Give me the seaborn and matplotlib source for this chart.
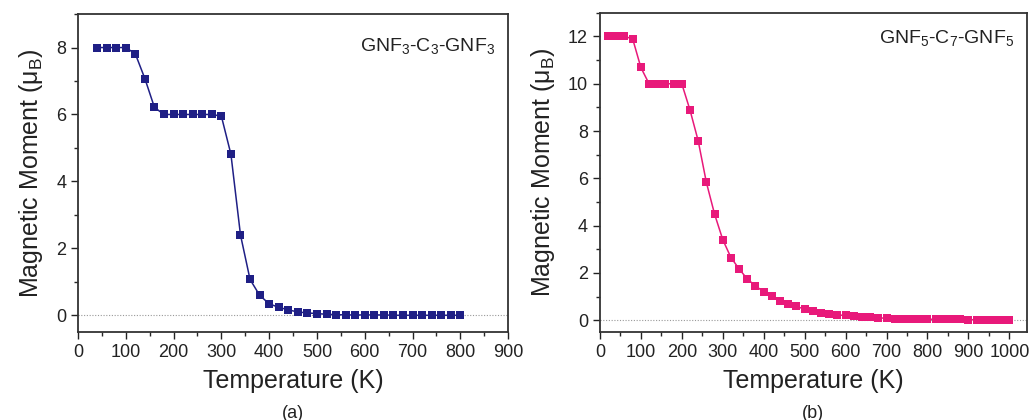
import numpy as np
import pandas as pd
import matplotlib
matplotlib.use("Agg")
import matplotlib.pyplot as plt
import seaborn as sns
from matplotlib.ticker import MultipleLocator

# --- Daten (a): GNF3-C3-GNF3 ---
temp_a = list(range(40, 801, 20))
moment_a = [8.0, 8.0, 8.0, 8.0, 7.81, 7.07, 6.21, 6.0, 6.0, 6.0, 6.0, 6.0, 6.0,
            5.95, 4.81, 2.40, 1.07, 0.60, 0.34, 0.24, 0.16, 0.10, 0.07, 0.05,
            0.03, 0.02, 0.01, 0.01, 0.01, 0.01, 0.01, 0.0, 0.0, 0.0, 0.0, 0.0,
            0.0, 0.0, 0.0]

# --- Daten (b): GNF5-C7-GNF5 ---
temp_b = list(range(20, 1001, 20))
moment_b = [12.0, 12.0, 12.0, 11.9, 10.69, 10.0, 10.0, 10.0, 10.0, 10.0,
            8.89, 7.59, 5.83, 4.49, 3.41, 2.65, 2.17, 1.74, 1.45, 1.20,
            1.02, 0.82, 0.68, 0.58, 0.47, 0.38, 0.31, 0.25, 0.22, 0.20,
            0.17, 0.14, 0.13, 0.10, 0.08, 0.07, 0.06, 0.05, 0.05, 0.04,
            0.04, 0.03, 0.03, 0.03, 0.02, 0.02, 0.02, 0.02, 0.01, 0.01]

labels = [r"GNF$_3$-C$_3$-GNF$_3$", r"GNF$_5$-C$_7$-GNF$_5$"]
colors = ["#1f1f85", "#e8197a"]

sns.set_style("ticks")
plt.rcParams['font.family'] = ['Liberation Sans', 'DejaVu Sans']
plt.rcParams['mathtext.default'] = 'regular'
plt.rcParams['xtick.direction'] = 'out'
plt.rcParams['ytick.direction'] = 'out'

fig = plt.figure(figsize=(10.29, 4.2), dpi=100)
ax_a = fig.add_axes([0.0758, 0.2095, 0.418, 0.757])
ax_b = fig.add_axes([0.583, 0.2095, 0.415, 0.760])

panels = [
    (ax_a, temp_a, moment_a, labels[0], colors[0], (0, 900), (-0.5, 9), 0.90, "(a)"),
    (ax_b, temp_b, moment_b, labels[1], colors[1], (0, 1043), (-0.5, 13), 0.92, "(b)"),
]

for ax, t, m, lab, col, xl, yl, lab_y, tag in panels:
    df = pd.DataFrame({"T": t, "M": m})
    ax.axhline(0, color="#999999", lw=0.8, ls=(0, (1, 1.5)), zorder=1)
    sns.lineplot(data=df, x="T", y="M", ax=ax, color=col, lw=1.1,
                 marker="s", markersize=5.4, markeredgewidth=0, zorder=3)
    ax.set_xlim(*xl)
    ax.set_ylim(*yl)
    ax.xaxis.set_major_locator(MultipleLocator(100))
    ax.xaxis.set_minor_locator(MultipleLocator(50))
    ax.yaxis.set_major_locator(MultipleLocator(2))
    ax.yaxis.set_minor_locator(MultipleLocator(1))
    ax.tick_params(which="major", length=5, width=1, labelsize=13, colors="#222222")
    ax.tick_params(which="minor", length=3, width=1)
    for s in ax.spines.values():
        s.set_linewidth(1.3)
        s.set_color("#333333")
    ax.set_xlabel("Temperature (K)", fontsize=18, color="#222222", labelpad=6)
    ax.set_ylabel(r"Magnetic Moment ($\mu_B$)", fontsize=18, color="#222222", labelpad=8)
    ax.text(0.97, lab_y, lab, transform=ax.transAxes, ha="right", va="center",
            fontsize=14, color="#222222")
    ax.text(0.5, -0.255, tag, transform=ax.transAxes, ha="center", va="center",
            fontsize=13, color="#222222")

fig.savefig("out.png", dpi=100)
